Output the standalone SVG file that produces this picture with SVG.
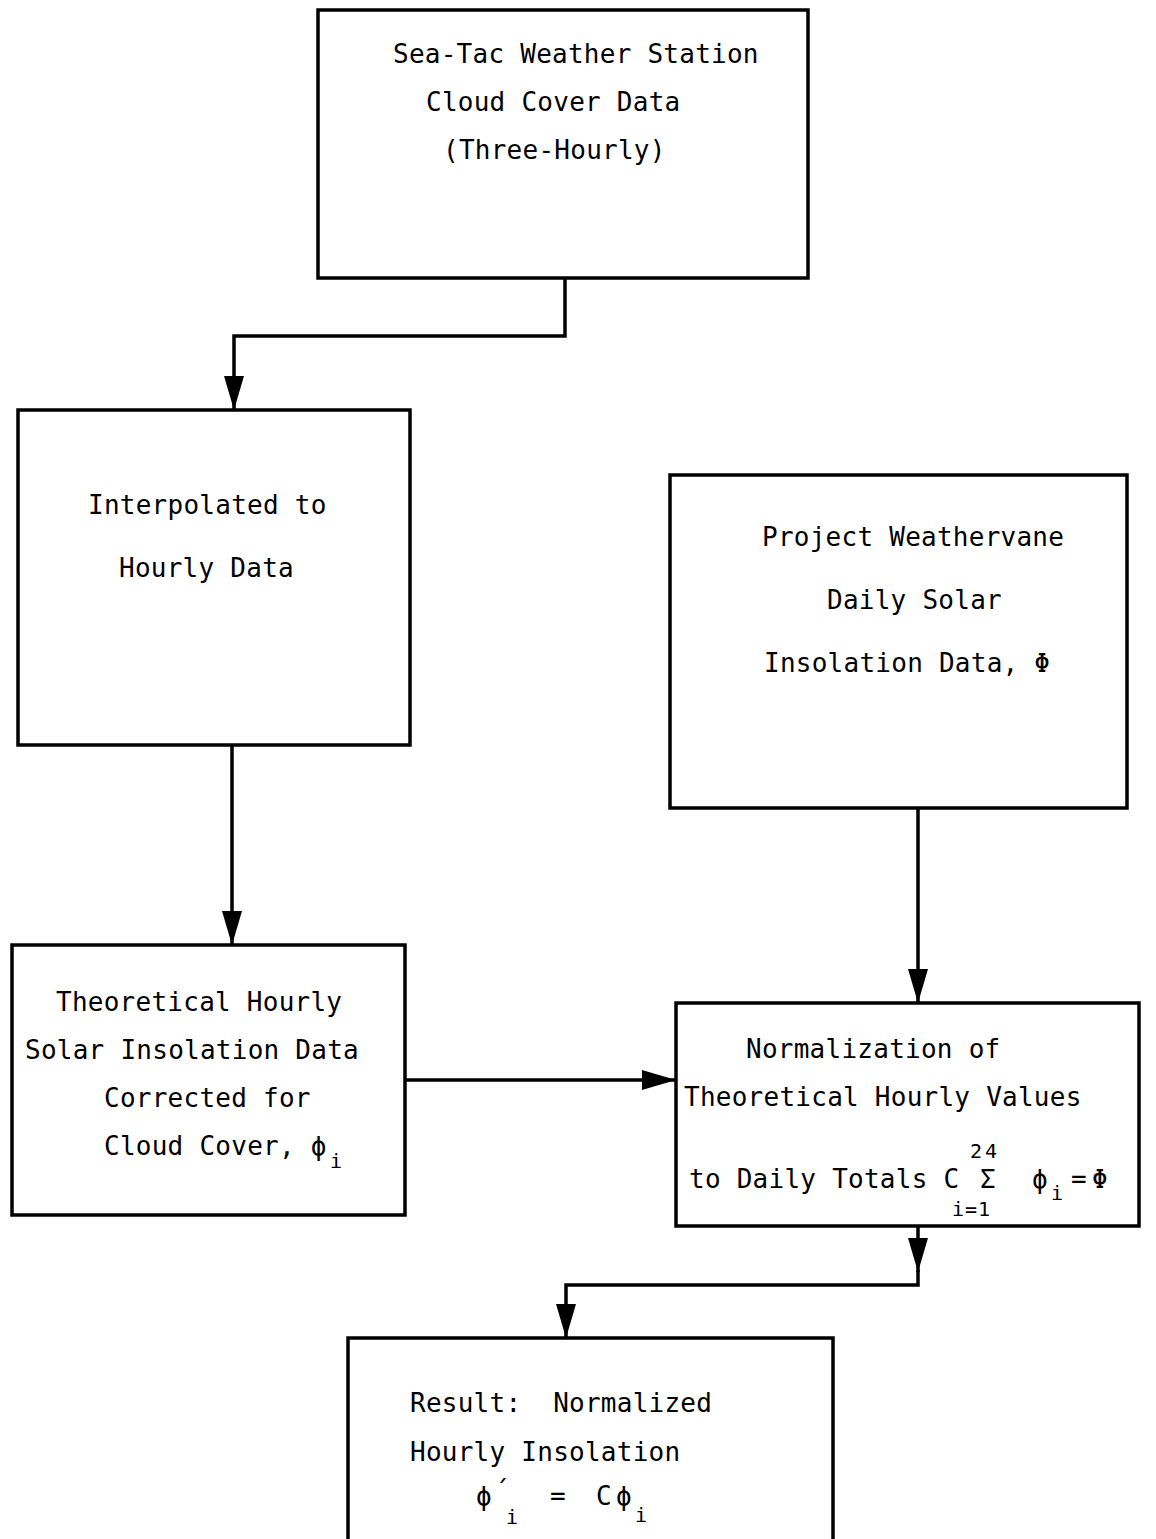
<svg xmlns="http://www.w3.org/2000/svg" width="1156" height="1539" viewBox="0 0 1156 1539">
<style>
.box{fill:#fff;stroke:#000;stroke-width:3.5}
.t{font-family:"DejaVu Sans Mono","Liberation Mono",monospace;font-size:26px;letter-spacing:0.25px;fill:#000;white-space:pre}
.s{font-family:"DejaVu Sans Mono","Liberation Mono",monospace;font-size:20px;fill:#000}
.c{fill:none;stroke:#000;stroke-width:3.5}
</style>
<defs>
<marker id="ah" markerUnits="userSpaceOnUse" markerWidth="34" markerHeight="20" refX="34" refY="10" orient="auto">
<path d="M0,0 L34,10 L0,20 z" fill="#000"/>
</marker>
</defs>
<rect width="1156" height="1539" fill="#fff"/>
<g id="connectors">
<path class="c" d="M565,278 V336 H234 V410" marker-end="url(#ah)"/>
<path class="c" d="M232,745 V945" marker-end="url(#ah)"/>
<path class="c" d="M405,1080 H676" marker-end="url(#ah)"/>
<path class="c" d="M918,808 V1003" marker-end="url(#ah)"/>
<path class="c" d="M918,1226 V1272" marker-end="url(#ah)"/>
<path class="c" d="M918,1270 V1285 H566 V1338" marker-end="url(#ah)"/>
</g>
<g id="n1">
<rect class="box" x="318" y="10" width="490" height="268"/>
<text class="t" x="393" y="63">Sea-Tac Weather Station</text>
<text class="t" x="426" y="111">Cloud Cover Data</text>
<text class="t" x="443" y="159">(Three-Hourly)</text>
</g>
<g id="n2">
<rect class="box" x="18" y="410" width="392" height="335"/>
<text class="t" x="88" y="514">Interpolated to</text>
<text class="t" x="119" y="577">Hourly Data</text>
</g>
<g id="n3">
<rect class="box" x="12" y="945" width="393" height="270"/>
<text class="t" x="56" y="1011">Theoretical Hourly</text>
<text class="t" x="25" y="1059">Solar Insolation Data</text>
<text class="t" x="104" y="1107">Corrected for</text>
<text class="t" x="104" y="1155">Cloud Cover, ϕ</text>
<text class="s" x="330" y="1168">i</text>
</g>
<g id="n4">
<rect class="box" x="670" y="475" width="457" height="333"/>
<text class="t" x="762" y="546">Project Weathervane</text>
<text class="t" x="827" y="609">Daily Solar</text>
<text class="t" x="764" y="672">Insolation Data, Φ</text>
</g>
<g id="n5">
<rect class="box" x="676" y="1003" width="463" height="223"/>
<text class="t" x="746" y="1058">Normalization of</text>
<text class="t" x="684" y="1106">Theoretical Hourly Values</text>
<text class="t" x="689" y="1188">to Daily Totals C</text>
<text class="t" x="980" y="1188">Σ</text>
<text class="s" x="970" y="1158" letter-spacing="3">24</text>
<text class="s" x="952" y="1216" letter-spacing="1">i=1</text>
<text class="t" x="1032" y="1188">ϕ</text>
<text class="s" x="1051" y="1200">i</text>
<text class="t" x="1071" y="1188">=</text>
<text class="t" x="1092" y="1188">Φ</text>
</g>
<g id="n6">
<rect class="box" x="348" y="1338" width="485" height="230"/>
<text class="t" x="410" y="1412">Result:  Normalized</text>
<text class="t" x="410" y="1461">Hourly Insolation</text>
<text class="t" x="476" y="1505">ϕ</text>
<text class="t" x="494" y="1500">´</text>
<text class="s" x="506" y="1524">i</text>
<text class="t" x="550" y="1505">=</text>
<text class="t" x="596" y="1505">C</text>
<text class="t" x="616" y="1505">ϕ</text>
<text class="s" x="635" y="1522">i</text>
</g>
</svg>
